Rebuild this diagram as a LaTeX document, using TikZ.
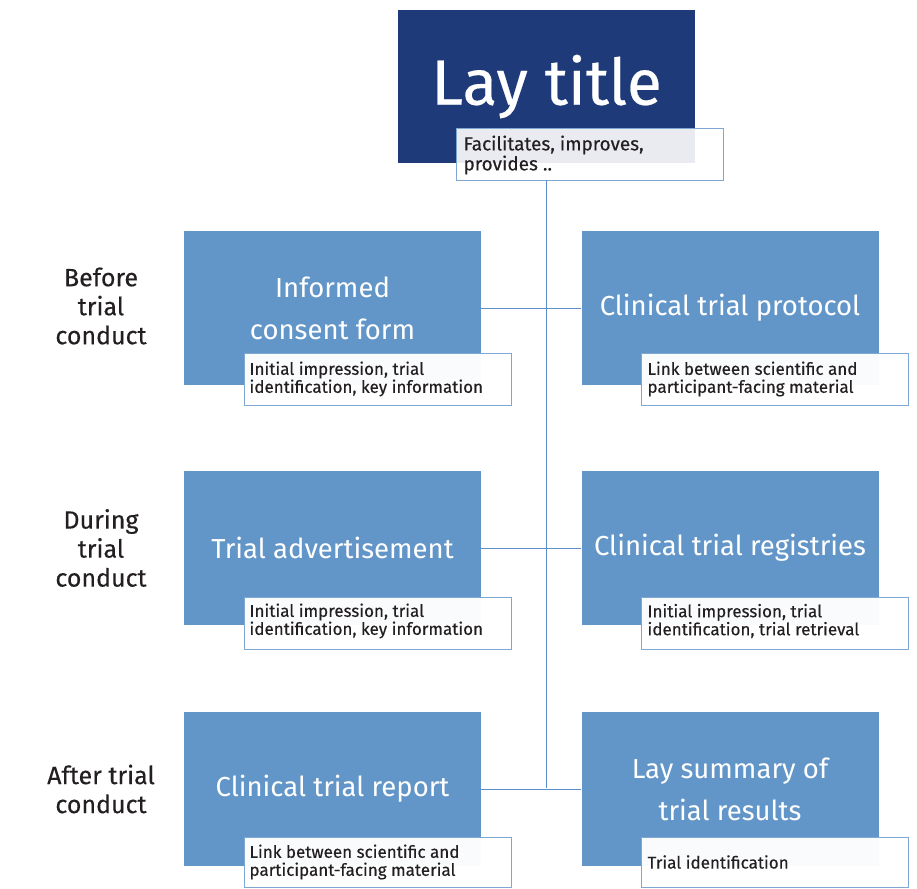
\documentclass[tikz,border=0pt]{standalone}
\usepackage{fontspec}
\setmainfont{Fira Sans}
\newfontfamily\medfont[FakeBold=0.35]{Fira Sans}
\definecolor{navy}{HTML}{1F3A78}
\definecolor{boxblue}{HTML}{6396C8}
\definecolor{linkblue}{HTML}{5B8FCB}
\definecolor{subborder}{HTML}{7FA7D4}
\definecolor{txt}{HTML}{231F20}
\begin{document}
\begin{tikzpicture}[x=1pt,y=-1pt,
  titlebox/.style={fill=navy,minimum width=297pt,minimum height=153pt,inner sep=0pt,text=white,font=\medfont\fontsize{64}{64}\selectfont},
  docbox/.style={fill=boxblue,minimum width=297pt,minimum height=154pt,inner sep=0pt,text=white,align=center,font=\fontsize{27.5}{42}\selectfont},
  notebox/.style={draw=subborder,line width=0.8pt,fill=white,fill opacity=0.97,text opacity=1,minimum width=267pt,minimum height=52pt,inner sep=0pt,anchor=north west},
  notetext/.style={text=txt,anchor=west,align=left,font=\medfont\fontsize{17}{18}\selectfont},
  phase/.style={text=txt,align=center,font=\medfont\fontsize{25}{29}\selectfont},
  link/.style={draw=linkblue,line width=1pt}]
\useasboundingbox (0,0) rectangle (917,888);
% title
\node[titlebox] (title) at (546.5,86.5) {Lay title};
\node[notebox,fill opacity=0.9] (facil) at (456,128) {};
\node[notetext,font=\medfont\fontsize{19}{20}\selectfont] (facilt) at (460,155) {Facilitates, improves,\\provides ..};
% row 1
\node[docbox] (icf) at (332.5,308) {Informed\\consent form};
\node[docbox] (ctp) at (730,308) {Clinical trial protocol};
% row 2
\node[docbox] (ad) at (332.5,548) {Trial advertisement};
\node[docbox] (reg) at (730,548) {Clinical trial registries};
% row 3
\node[docbox] (ctr) at (332.5,789) {Clinical trial report};
\node[docbox] (lay) at (730,789) {Lay summary of\\trial results};
% connectors
\coordinate (top) at (546,180);
\coordinate (bot) at (546,788);
\draw[link] (top) -- (bot);
\draw[link] (icf.east) -- (ctp.west);
\draw[link] (ad.east) -- (reg.west);
\draw[link] (ctr.east) -- (lay.west);
% notes
\node[notebox] (n1) at (244,353) {};
\node[notetext] at (246,379) {Initial impression, trial\\identification, key information};
\node[notebox] (n2) at (641,353) {};
\node[notetext] at (644,379) {Link between scientific and\\participant-facing material};
\node[notebox] (n3) at (244,597) {};
\node[notetext] at (246,621) {Initial impression, trial\\identification, key information};
\node[notebox] (n4) at (641,597) {};
\node[notetext] at (644,621) {Initial impression, trial\\identification, trial retrieval};
\node[notebox,minimum height=50pt] (n5) at (244,837) {};
\node[notetext] at (246,862) {Link between scientific and\\participant-facing material};
\node[notebox,minimum height=50pt] (n6) at (641,837) {};
\node[notetext] at (644,862) {Trial identification};
% phases
\node[phase] (p1) at (101,306) {Before\\trial\\conduct};
\node[phase] (p2) at (101,548) {During\\trial\\conduct};
\node[phase] (p3) at (101,789) {After trial\\conduct};
\end{tikzpicture}
\end{document}
